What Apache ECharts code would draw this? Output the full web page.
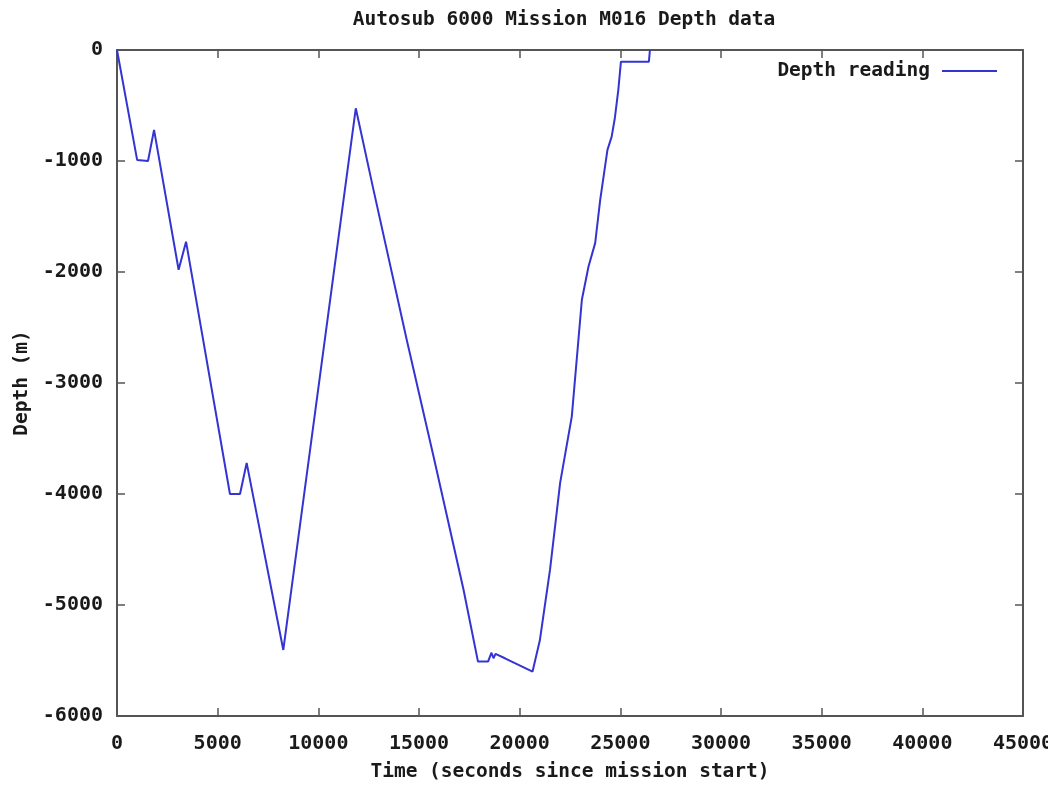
<!DOCTYPE html>
<html>
<head>
<meta charset="utf-8">
<script src="https://cdn.jsdelivr.net/npm/echarts@6/dist/echarts.min.js"></script>
<style>
html,body{margin:0;padding:0;background:#fff;overflow:hidden;}
#chart{width:1048px;height:785px;}
</style>
</head>
<body>
<div id="chart"></div>
<script>
const titleText = 'Autosub 6000 Mission M016 Depth data';
const seriesName = 'Depth reading';
const xAxisName = 'Time (seconds since mission start)';
const yAxisName = 'Depth (m)';
const timeSec = [0, 1000, 1540, 1840, 3060, 3430, 5610, 6110, 6440, 8260, 11860, 12740, 14390, 15720, 17210, 17930, 18430, 18600, 18700, 18800, 19270, 20640, 21000, 21510, 22010, 22590, 23090, 23420, 23750, 24000, 24360, 24570, 24730, 24900, 25030, 26420, 26470];
const depthM = [0, -990, -1000, -720, -1980, -1727, -4000, -4000, -3720, -5405, -525, -1260, -2610, -3660, -4860, -5510, -5510, -5430, -5480, -5440, -5480, -5600, -5320, -4680, -3900, -3300, -2250, -1950, -1740, -1350, -900, -780, -610, -360, -105, -105, 0];

const font = 'DejaVu Sans Mono';
const fs = 19.5;
const fsTick = 20;
const frameColor = '#555';
const textColor = '#1a1a1a';
const plain = v => String(v);
const tickStyle = { show: true, inside: true, length: 8, lineStyle: { color: frameColor, width: 1.5 } };
const lineStyleAxis = { show: true, onZero: false, lineStyle: { color: frameColor, width: 2 } };

const chart = echarts.init(document.getElementById('chart'));
chart.setOption({
  backgroundColor: '#fff',
  animation: false,
  title: {
    text: titleText, left: 559, top: 5, textAlign: 'center',
    textStyle: { fontFamily: font, fontSize: fs, fontWeight: 'bold', color: textColor }
  },
  legend: {
    right: 46, top: 56, align: 'right', itemWidth: 55, itemHeight: 2,
    icon: 'rect',
    data: [{ name: seriesName }],
    textStyle: { fontFamily: font, fontSize: fs, fontWeight: 'bold', color: textColor, padding: [0, 7, 0, 0] }
  },
  grid: { left: 117, right: 25, top: 50, bottom: 69, containLabel: false, outerBoundsMode: 'none' },
  xAxis: [{
    type: 'value', min: 0, max: 45000, interval: 5000,
    name: xAxisName, nameLocation: 'middle', nameGap: 46,
    nameTextStyle: { fontFamily: font, fontSize: fs, fontWeight: 'bold', color: textColor },
    axisLine: lineStyleAxis,
    axisTick: tickStyle,
    axisLabel: { fontFamily: font, fontSize: fsTick, fontWeight: 'bold', color: textColor, margin: 18, formatter: plain },
    splitLine: { show: false }
  }, {
    type: 'value', position: 'top', min: 0, max: 45000, interval: 5000,
    axisLine: lineStyleAxis,
    axisTick: tickStyle,
    axisLabel: { show: false }, splitLine: { show: false }
  }],
  yAxis: [{
    type: 'value', min: -6000, max: 0, interval: 1000,
    name: yAxisName, nameLocation: 'middle', nameGap: 83, nameRotate: 90,
    nameTextStyle: { fontFamily: font, fontSize: fs, fontWeight: 'bold', color: textColor },
    axisLine: lineStyleAxis,
    axisTick: tickStyle,
    axisLabel: { fontFamily: font, fontSize: fsTick, fontWeight: 'bold', color: textColor, margin: 14, formatter: plain },
    splitLine: { show: false }
  }, {
    type: 'value', position: 'right', min: -6000, max: 0, interval: 1000,
    axisLine: lineStyleAxis,
    axisTick: tickStyle,
    axisLabel: { show: false }, splitLine: { show: false }
  }],
  series: [{
    name: seriesName, type: 'line', xAxisIndex: 0, yAxisIndex: 0,
    data: timeSec.map((t, i) => [t, depthM[i]]),
    showSymbol: false, symbol: 'none',
    lineStyle: { color: '#3434d2', width: 2 },
    itemStyle: { color: '#3434d2' }
  }]
});
</script>
</body>
</html>
